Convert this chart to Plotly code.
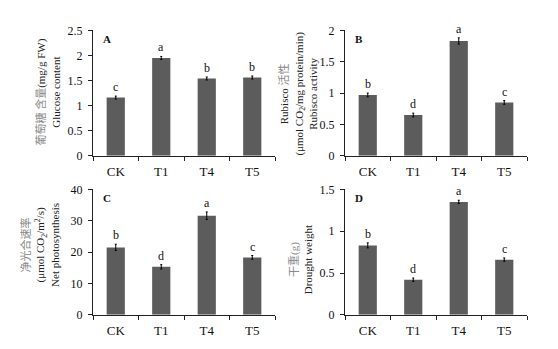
import plotly.graph_objects as go

categories = ["CK", "T1", "T4", "T5"]

glucose = [1.16, 1.95, 1.54, 1.56]
glucose_err = [0.03, 0.03, 0.03, 0.03]
glucose_sig = ["c", "a", "b", "b"]

rubisco = [0.97, 0.65, 1.83, 0.85]
rubisco_err = [0.03, 0.03, 0.05, 0.03]
rubisco_sig = ["b", "d", "a", "c"]

photo = [21.5, 15.3, 31.6, 18.3]
photo_err = [1.0, 0.7, 1.2, 0.6]
photo_sig = ["b", "d", "a", "c"]

dryweight = [0.83, 0.42, 1.35, 0.66]
dryweight_err = [0.03, 0.02, 0.02, 0.02]
dryweight_sig = ["b", "d", "a", "c"]

# page body has an 8px margin; the figure fills the rest of the 558x349 window
OFF = 8
W, H = 558 - 2 * OFF, 349 - 2 * OFF
SERIF = "Liberation Serif"
CJK = "Noto Sans CJK SC"


def fx(px):
    return (px - OFF) / W


def fy(py):
    return 1 - (py - OFF) / H


panels = [
    dict(vals=glucose, err=glucose_err, sig=glucose_sig, letter="A", yr=[0, 2.5], dt=0.5,
         px=(93, 275), py=(24, 155), tx=48, ty=89,
         title='<span style="color:#888">葡萄糖 含量</span>(mg/g FW)<br>Glucose content'),
    dict(vals=rubisco, err=rubisco_err, sig=rubisco_sig, letter="B", yr=[0, 2], dt=0.5,
         px=(345, 527), py=(24, 155), tx=298, ty=90,
         title='Rubisco <span style="color:#888">活性</span><br>(μmol CO<sub>2</sub>/mg protein/min)<br>Rubisco activity'),
    dict(vals=photo, err=photo_err, sig=photo_sig, letter="C", yr=[0, 40], dt=10,
         px=(93, 275), py=(190, 321), tx=40, ty=248,
         title='<span style="color:#888">净光合速率</span><br>(μmol CO<sub>2</sub>/m<sup>2</sup>/s)<br>Net photosynthesis'),
    dict(vals=dryweight, err=dryweight_err, sig=dryweight_sig, letter="D", yr=[0, 1.5], dt=0.5,
         px=(345, 527), py=(190, 321), tx=300, ty=264,
         title='<span style="color:#888">干重(g)</span><br>Drought weight'),
]

fig = go.Figure()
layout = dict(
    width=W, height=H, margin=dict(l=0, r=0, t=0, b=0),
    paper_bgcolor="white", plot_bgcolor="white", showlegend=False,
    bargap=0.6,
)
annotations = []

for i, p in enumerate(panels, start=1):
    xa = "x" if i == 1 else f"x{i}"
    ya = "y" if i == 1 else f"y{i}"
    fig.add_trace(go.Bar(
        x=categories, y=p["vals"], xaxis=xa, yaxis=ya,
        marker=dict(color="#5c5c5c", line=dict(width=0)),
        error_y=dict(type="data", array=p["err"], visible=True,
                     color="black", thickness=1, width=1),
    ))
    xd = [fx(p["px"][0]), fx(p["px"][1])]
    yd = [fy(p["py"][1]), fy(p["py"][0])]
    layout[f"xaxis{'' if i == 1 else i}"] = dict(
        domain=xd, anchor=ya, type="category",
        showline=True, linecolor="#222", linewidth=1,
        ticks="outside", tickson="boundaries", ticklen=4, tickcolor="#222",
        ticklabelstandoff=4,
        tickfont=dict(family=SERIF, size=13, color="#111"),
        showgrid=False, zeroline=False, fixedrange=True,
    )
    layout[f"yaxis{'' if i == 1 else i}"] = dict(
        domain=yd, anchor=xa, range=p["yr"], dtick=p["dt"],
        showline=True, linecolor="#222", linewidth=1,
        ticks="outside", ticklen=4, tickcolor="#222",
        ticklabelstandoff=3,
        tickfont=dict(family=SERIF, size=12, color="#111"),
        showgrid=False, zeroline=False, fixedrange=True,
    )
    # significance letters
    for c, v, e, s in zip(categories, p["vals"], p["err"], p["sig"]):
        annotations.append(dict(
            x=c, y=v + e, xref=xa, yref=ya, text=s, showarrow=False,
            yanchor="bottom", yshift=0,
            font=dict(family=SERIF, size=12, color="#111"),
        ))
    # panel letter
    annotations.append(dict(
        x=fx(p["px"][0] + 8), y=fy(p["py"][0] + 1), xref="paper", yref="paper",
        text=f"<b>{p['letter']}</b>", showarrow=False, xanchor="left", yanchor="top",
        font=dict(family=SERIF, size=11, color="#111"),
    ))
    # y title
    annotations.append(dict(
        x=fx(p["tx"]), y=fy(p["ty"]), xref="paper", yref="paper",
        text=p["title"], showarrow=False, textangle=-90,
        xanchor="center", yanchor="middle",
        font=dict(family=f"{SERIF}, {CJK}", size=11, color="#222"),
    ))

layout["annotations"] = annotations
fig.update_layout(**layout)
fig.write_html("out.html")
